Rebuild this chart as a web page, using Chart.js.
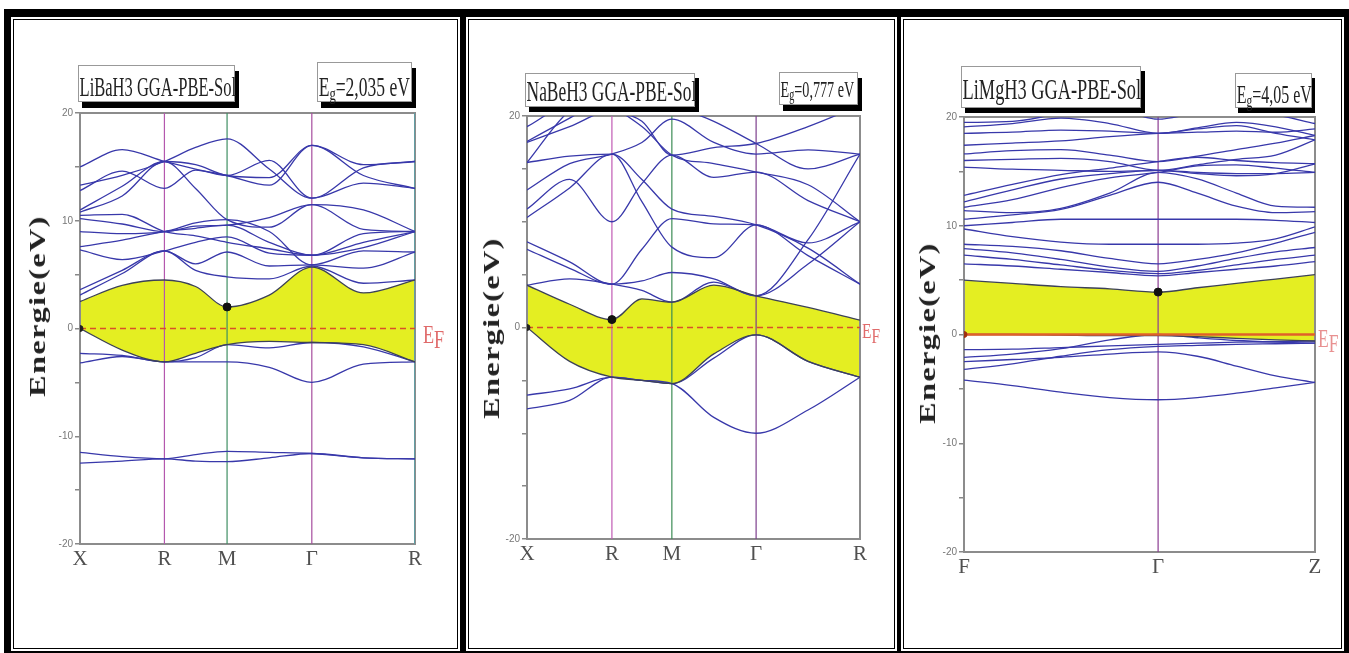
<!DOCTYPE html>
<html>
<head>
<meta charset="utf-8">
<script src="https://cdn.jsdelivr.net/npm/chart.js@4.4.0/dist/chart.umd.min.js"></script>
<style>
    body { margin: 0; background: #fff; width: 1349px; height: 653px; position: relative; overflow: hidden; }
    #frame { position: absolute; left: 4px; top: 9px; width: 1345px; height: 644px; background: #000; }
    .cell { position: absolute; top: 19px; height: 630px; background: #fff; border: 1px solid #000; box-shadow: 0 0 0 2px #fff; box-sizing: border-box; }
    .cell canvas { position: absolute; left: 0; top: 0; }
    .box { position: absolute; background: #fff; border: 1px solid #999; box-sizing: border-box; font-family: 'Liberation Serif', 'Times New Roman', serif; color: #222; white-space: nowrap; }
    .box span.t { display: inline-block; transform-origin: 0 50%; padding-left: 1px; }
    .box sub { font-size: 0.72em; vertical-align: baseline; position: relative; top: 0.2em; }
    .ytitle { position: absolute; font-family: 'Liberation Serif', 'Times New Roman', serif; font-weight: bold; font-size: 23px; letter-spacing: 1px; color: #222; white-space: nowrap; transform: translate(-50%, -50%) rotate(-90deg) scaleX(1.4); }
</style>
</head>
<body>
<div id="frame"></div>
<div class="cell" style="left:13px;width:445px;"><canvas id="bands1" width="443" height="628"></canvas></div>
<div class="cell" style="left:468px;width:427px;"><canvas id="bands2" width="425" height="628"></canvas></div>
<div class="cell" style="left:903px;width:439px;"><canvas id="bands3" width="437" height="628"></canvas></div>

<div class="box" style="left:78px;top:65px;width:157px;height:37px;box-shadow:4px 6px 0 #000;"><span class="t" style="font-size:28px;line-height:41px;transform:scaleX(0.59);">LiBaH3 GGA-PBE-Sol</span></div>
<div class="box" style="left:317px;top:62px;width:95px;height:40px;box-shadow:4px 6px 0 #000;"><span class="t" style="font-size:27px;line-height:48px;transform:scaleX(0.65);">E<sub>g</sub>=2,035 eV</span></div>
<div class="ytitle" style="left:38px;top:306px;">Energie(eV)</div>

<div class="box" style="left:525px;top:73px;width:170px;height:34px;box-shadow:4px 5px 0 #000;"><span class="t" style="font-size:30px;line-height:34px;transform:scaleX(0.58);">NaBeH3 GGA-PBE-Sol</span></div>
<div class="box" style="left:779px;top:72px;width:79px;height:33px;box-shadow:4px 6px 0 #000;"><span class="t" style="font-size:24px;line-height:33px;transform:scaleX(0.59);">E<sub>g</sub>=0,777 eV</span></div>
<div class="ytitle" style="left:492px;top:328px;">Energie(eV)</div>

<div class="box" style="left:961px;top:66px;width:180px;height:42px;box-shadow:4px 5px 0 #000;"><span class="t" style="font-size:30px;line-height:44px;transform:scaleX(0.61);">LiMgH3 GGA-PBE-Sol</span></div>
<div class="box" style="left:1235px;top:73px;width:77px;height:35px;box-shadow:3px 5px 0 #000;"><span class="t" style="font-size:25px;line-height:42px;transform:scaleX(0.64);">E<sub>g</sub>=4,05 eV</span></div>
<div class="ytitle" style="left:928px;top:333px;">Energie(eV)</div>

<script>
// energy axis ticks (eV)
const yTicks = [-20, -15, -10, -5, 0, 5, 10, 15, 20];

// ---- LiBaH3 : X-R-M-Γ-R ----
const kGrid1 = [0, 0.126, 0.252, 0.345, 0.439, 0.565, 0.692, 0.846, 1];
const symPos1 = [0, 0.252, 0.439, 0.692, 1];
const symNames1 = ['X', 'R', 'M', 'Γ', 'R'];
const valence1 = [
    [0, -2.0, -3.1, -2.3, -1.5, -1.2, -1.3, -1.5, -3.1],
    [-2.3, -2.5, -3.1, -3.1, -3.1, -3.6, -5.0, -3.3, -3.1],
    [-3.2, -2.6, -3.1, -2.7, -1.5, -1.8, -1.3, -1.7, -3.1],
    [-11.5, -11.9, -12.1, -11.7, -11.4, -11.5, -11.6, -12.0, -12.1],
    [-12.5, -12.3, -12.1, -12.3, -12.35, -12.0, -11.6, -12.0, -12.1]
];
const conduction1 = [
    [2.5, 4.0, 4.5, 3.9, 2.0, 3.1, 5.7, 3.3, 4.5],
    [3.1, 5.1, 7.2, 5.4, 4.8, 4.6, 5.8, 4.2, 4.5],
    [3.6, 5.4, 7.2, 6.0, 7.1, 5.8, 5.9, 5.6, 7.1],
    [7.3, 6.4, 7.2, 8.0, 8.5, 7.0, 6.8, 7.5, 9.0],
    [7.6, 8.2, 9.0, 9.3, 9.6, 8.0, 6.8, 8.0, 9.0],
    [9.0, 8.8, 9.0, 9.8, 10.1, 9.0, 5.9, 7.2, 7.1],
    [10.2, 9.7, 9.0, 9.5, 9.6, 10.3, 11.5, 11.0, 9.0],
    [10.5, 10.6, 9.0, 8.6, 8.0, 7.4, 6.8, 8.8, 9.0],
    [11.0, 13.2, 15.5, 13.0, 10.1, 9.4, 11.5, 9.2, 9.0],
    [12.8, 14.6, 13.0, 14.7, 14.2, 15.6, 12.1, 14.9, 15.5],
    [13.3, 14.2, 15.5, 16.8, 17.6, 14.8, 12.1, 13.5, 13.0],
    [15.0, 16.6, 15.5, 14.8, 14.2, 13.3, 17.0, 15.2, 15.5],
    [10.8, 12.3, 15.5, 15.2, 14.2, 14.0, 17.0, 14.2, 13.0]
];
const cbm1 = [0.439, 2.0];

// ---- NaBeH3 : X-R-M-Γ-R ----
const kGrid2 = [0, 0.128, 0.255, 0.345, 0.435, 0.561, 0.688, 0.844, 1];
const symPos2 = [0, 0.255, 0.435, 0.688, 1];
const symNames2 = ['X', 'R', 'M', 'Γ', 'R'];
const valence2 = [
    [0, -3.2, -4.7, -5.0, -5.3, -2.5, -0.7, -3.2, -4.7],
    [-6.4, -5.8, -4.7, -5.0, -5.3, -2.9, -0.7, -3.2, -4.7],
    [-7.7, -6.9, -4.7, -5.0, -5.3, -8.5, -10.0, -7.8, -4.7]
];
const conduction2 = [
    [4.0, 2.2, 0.75, 2.7, 2.4, 4.0, 3.0, 1.9, 0.7],
    [4.0, 4.6, 4.1, 3.5, 2.4, 4.3, 3.0, 8.3, 16.4],
    [7.4, 5.6, 4.1, 4.4, 5.2, 4.6, 3.0, 6.0, 10.0],
    [8.1, 6.2, 4.1, 7.4, 10.3, 9.8, 9.7, 8.0, 10.0],
    [10.4, 13.2, 16.4, 11.9, 7.6, 6.6, 9.7, 6.8, 4.1],
    [11.2, 14.0, 10.0, 13.6, 16.3, 14.2, 14.7, 12.0, 10.0],
    [15.6, 16.2, 16.4, 14.0, 11.2, 10.5, 9.7, 7.5, 4.1],
    [17.5, 19.0, 20.5, 19.0, 16.3, 15.5, 14.7, 13.5, 10.0],
    [13.0, 15.5, 16.4, 17.5, 19.7, 17.5, 16.4, 16.8, 16.4],
    [19.0, 21.0, 20.5, 19.5, 16.3, 17.0, 17.4, 19.0, 21.0],
    [15.6, 20.5, 22.0, 22.0, 21.0, 19.5, 17.4, 15.0, 16.4],
    [17.6, 19.8, 22.0, 23.0, 23.0, 23.0, 22.0, 21.0, 20.5]
];
const cbm2 = [0.255, 0.75];

// ---- LiMgH3 : F-Γ-Z ----
const kGrid3 = [0, 0.138, 0.276, 0.415, 0.553, 0.665, 0.776, 0.888, 1];
const symPos3 = [0, 0.553, 1];
const symNames3 = ['F', 'Γ', 'Z'];
const valence3 = [
    [0, 0, -0.05, -0.1, -0.1, -0.2, -0.35, -0.5, -0.6],
    [-1.4, -1.35, -1.2, -1.05, -0.9, -0.8, -0.7, -0.65, -0.6],
    [-2.1, -1.8, -1.3, -0.5, 0, -0.3, -0.55, -0.7, -0.8],
    [-2.5, -2.3, -2.1, -1.8, -1.6, -2.0, -2.9, -3.8, -4.4],
    [-3.2, -2.7, -2.0, -1.4, -1.1, -1.0, -0.9, -0.85, -0.8],
    [-4.2, -4.7, -5.3, -5.8, -6.0, -5.8, -5.4, -4.9, -4.4]
];
const conduction3 = [
    [5.0, 4.7, 4.4, 4.2, 3.9, 4.3, 4.7, 5.1, 5.5],
    [6.5, 6.3, 6.0, 5.7, 5.4, 5.7, 6.0, 6.3, 6.7],
    [7.3, 6.9, 6.4, 5.9, 5.6, 5.9, 6.4, 6.9, 7.3],
    [7.9, 7.5, 6.9, 6.2, 5.8, 6.3, 7.0, 7.6, 8.0],
    [8.3, 8.1, 7.7, 7.0, 6.5, 6.9, 7.5, 8.4, 9.4],
    [9.7, 9.0, 8.5, 8.3, 8.3, 8.3, 8.4, 8.8, 9.9],
    [10.0, 10.3, 10.6, 10.6, 10.6, 10.6, 10.6, 10.5, 10.3],
    [10.6, 11.0, 11.5, 12.8, 14.0, 13.0, 11.8, 11.2, 11.3],
    [11.4, 11.2, 11.6, 13.0, 14.9, 14.3, 13.0, 11.8, 11.7],
    [11.7, 12.4, 13.5, 14.4, 14.9, 15.5, 15.6, 15.3, 14.9],
    [12.2, 13.3, 14.3, 14.8, 15.1, 14.8, 14.6, 14.8, 15.7],
    [12.8, 13.8, 14.7, 15.3, 15.9, 16.3, 16.0, 15.8, 15.7],
    [15.4, 15.2, 15.1, 15.0, 15.1, 14.9, 14.8, 14.8, 14.9],
    [16.0, 16.1, 16.2, 15.9, 15.1, 15.6, 16.1, 16.5, 17.9],
    [16.6, 16.9, 17.0, 16.5, 15.9, 16.4, 17.0, 17.6, 18.3],
    [17.4, 17.6, 17.8, 18.2, 18.5, 18.6, 18.7, 18.6, 18.9],
    [18.5, 18.6, 18.8, 18.7, 18.5, 19.0, 19.5, 19.1, 18.3],
    [19.1, 19.4, 19.9, 19.4, 18.5, 18.9, 19.2, 18.5, 17.9],
    [19.5, 19.6, 20.3, 20.8, 19.8, 20.4, 20.8, 20.2, 19.4]
];
const cbm3 = [0.553, 3.9];

const YELLOW = 'rgb(228, 238, 34)';
const BAND = '#3838aa';
const EDGE = '#3c4158';

function bandDataset(grid, vals, color) {
    return {
        data: vals.map((v, i) => ({ x: grid[i], y: v })),
        borderColor: color,
        borderWidth: 1.3,
        pointRadius: 0,
        cubicInterpolationMode: 'monotone',
        fill: false,
        order: 3
    };
}

// frame around the plot area
const framePlugin = {
    id: 'plotFrame',
    beforeDatasetsDraw(chart) {
        const a = chart.chartArea;
        const ctx = chart.ctx;
        ctx.save();
        ctx.strokeStyle = '#8c8c8c';
        ctx.lineWidth = 2;
        ctx.strokeRect(a.left, a.top, a.right - a.left, a.bottom - a.top);
        ctx.restore();
    }
};

// "EF" next to the Fermi level
const efPlugin = {
    id: 'efLabel',
    afterDraw(chart, args, o) {
        const ctx = chart.ctx;
        const y0 = chart.scales.y.getPixelForValue(0);
        ctx.save();
        ctx.fillStyle = o.color;
        ctx.font = o.size + 'px "Liberation Serif", serif';
        ctx.translate(chart.chartArea.right + o.dx, y0);
        ctx.scale(0.7, 1);
        ctx.fillText('E', 0, o.dy);
        ctx.fillText('F', ctx.measureText('E').width, o.dy + o.sub);
        ctx.restore();
    }
};

function makePanel(id, p) {
    const datasets = [];
    // Fermi level
    datasets.push({
        data: [{ x: 0, y: 0 }, { x: 1, y: 0 }],
        borderColor: p.fermiColor, borderWidth: p.fermiWidth, borderDash: p.fermiDash,
        pointRadius: 0, order: 2
    });
    // gap: top valence band filled up to bottom conduction band
    datasets.push(bandDataset(p.grid, p.valence[0], EDGE));
    const cb = bandDataset(p.grid, p.conduction[0], EDGE);
    cb.fill = '-1';
    cb.backgroundColor = YELLOW;
    datasets.push(cb);
    p.valence.slice(1).forEach(v => datasets.push(bandDataset(p.grid, v, BAND)));
    p.conduction.slice(1).forEach(v => datasets.push(bandDataset(p.grid, v, BAND)));
    // high symmetry lines
    p.symPos.forEach((x, i) => {
        if (!p.symColors[i]) return;
        datasets.push({
            data: [{ x: x, y: -20 }, { x: x, y: 20 }],
            borderColor: p.symColors[i], borderWidth: 1.2, pointRadius: 0, order: 4
        });
    });
    // band edge markers
    datasets.push({
        data: [{ x: p.cbm[0], y: p.cbm[1] }], showLine: false,
        pointRadius: 4, pointBackgroundColor: '#111', pointBorderColor: '#111', order: 1
    });
    datasets.push({
        data: [{ x: 0, y: 0 }], showLine: false,
        pointRadius: 3, pointBackgroundColor: p.originColor, pointBorderColor: p.originColor, order: 1
    });

    return new Chart(document.getElementById(id).getContext('2d'), {
        type: 'line',
        data: { datasets: datasets },
        plugins: [framePlugin, efPlugin],
        options: {
            responsive: false,
            animation: false,
            layout: { padding: p.padding },
            plugins: {
                legend: { display: false },
                tooltip: { enabled: false },
                filler: { drawTime: 'beforeDatasetsDraw' },
                efLabel: p.ef
            },
            scales: {
                x: {
                    type: 'linear', min: 0, max: 1,
                    afterBuildTicks: s => { s.ticks = p.symPos.map(v => ({ value: v })); },
                    afterFit: s => { s.height = 40; },
                    grid: { display: false, drawTicks: false },
                    border: { display: false },
                    ticks: {
                        autoSkip: false, maxRotation: 0, padding: 3,
                        callback: (v, i) => p.symNames[i],
                        font: { family: '"Liberation Serif", serif', size: 21 },
                        color: '#505050'
                    }
                },
                y: {
                    min: -20, max: 20,
                    afterBuildTicks: s => { s.ticks = yTicks.map(v => ({ value: v })); },
                    afterFit: s => { s.width = 30; },
                    grid: { drawOnChartArea: false, drawTicks: true, tickLength: 5, color: '#888', lineWidth: 1.5 },
                    border: { display: false },
                    ticks: {
                        padding: 2,
                        callback: v => (v % p.labelStep === 0 ? v : ''),
                        font: { family: '"Liberation Sans", sans-serif', size: 10 },
                        color: '#777'
                    }
                }
            }
        }
    });
}

makePanel('bands1', {
    grid: kGrid1, symPos: symPos1, symNames: symNames1,
    symColors: [null, '#b458ae', '#3f8f62', '#a64c9e', '#45aab4'],
    valence: valence1, conduction: conduction1, cbm: cbm1,
    fermiColor: '#d8502a', fermiWidth: 1.5, fermiDash: [6, 4], originColor: '#222',
    labelStep: 10,
    padding: { left: 36, right: 42, top: 93, bottom: 64 },
    ef: { color: '#e06a6a', size: 26, dx: 8, dy: 14, sub: 5 }
});

makePanel('bands2', {
    grid: kGrid2, symPos: symPos2, symNames: symNames2,
    symColors: [null, '#c05ab4', '#3c8c55', '#7c3e8c', null],
    valence: valence2, conduction: conduction2, cbm: cbm2,
    fermiColor: '#d8502a', fermiWidth: 1.5, fermiDash: [6, 4], originColor: '#222',
    labelStep: 20,
    padding: { left: 28, right: 34, top: 96, bottom: 69 },
    ef: { color: '#e06a6a', size: 22, dx: 2, dy: 10, sub: 5 }
});

makePanel('bands3', {
    grid: kGrid3, symPos: symPos3, symNames: symNames3,
    symColors: [null, '#8c3c92', null],
    valence: valence3, conduction: conduction3, cbm: cbm3,
    fermiColor: '#e0602a', fermiWidth: 2.5, fermiDash: [], originColor: '#a03010',
    labelStep: 10,
    padding: { left: 30, right: 26, top: 97, bottom: 56 },
    ef: { color: '#e89090', size: 25, dx: 3, dy: 12, sub: 5 }
});
</script>
</body>
</html>
